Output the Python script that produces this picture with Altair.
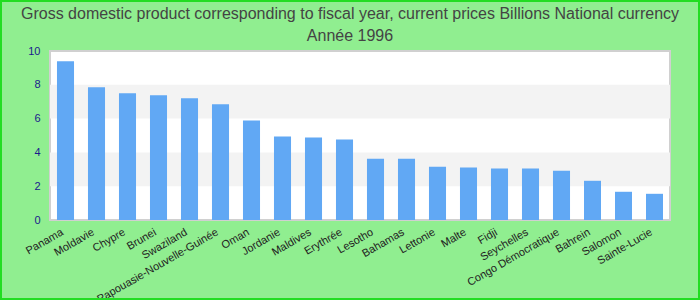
import altair as alt
import pandas as pd

countries = ["Panama", "Moldavie", "Chypre", "Brunei", "Swaziland",
             "Papouasie-Nouvelle-Guinée", "Oman", "Jordanie", "Maldives", "Erythrée",
             "Lesotho", "Bahamas", "Lettonie", "Malte", "Fidji",
             "Seychelles", "Congo Démocratique", "Bahrein", "Salomon", "Sainte-Lucie"]
values = [9.40, 7.86, 7.50, 7.38, 7.20,
          6.85, 5.89, 4.94, 4.88, 4.76,
          3.63, 3.63, 3.15, 3.10, 3.04,
          3.04, 2.92, 2.32, 1.67, 1.55]
band_start = [2, 6]
band_end = [4, 8]

df = pd.DataFrame({"country": countries, "value": values})
bands = pd.DataFrame({"y0": band_start, "y1": band_end})

yscale = alt.Scale(domain=[0, 10])
yaxis = alt.Axis(values=[0, 2, 4, 6, 8, 10], grid=False, ticks=False, domain=False,
                 labelColor="#1a1a8c", labelFontSize=11, labelFont="Liberation Sans",
                 labelPadding=10, labelOverlap=False, title=None)

band_layer = alt.Chart(bands).mark_rect(color="#f3f3f3").encode(
    y=alt.Y("y0:Q", scale=yscale, axis=yaxis, title=None),
    y2="y1:Q",
)

bars = alt.Chart(df).mark_bar(color="#61a8f4").encode(
    x=alt.X("country:N", sort=None, title=None,
            scale=alt.Scale(paddingInner=0.45, paddingOuter=0.225),
            axis=alt.Axis(labelAngle=-30, labelAlign="right", labelBaseline="top",
                          labelColor="#222222", labelFontSize=11, labelFont="Liberation Sans",
                          ticks=False, domain=False, labelPadding=6, labelOffset=-6,
                          labelOverlap=False)),
    y=alt.Y("value:Q", scale=yscale, axis=yaxis, title=None),
)

border = alt.Chart(df).mark_rect(fill=None, stroke="#22dd22", strokeWidth=2, clip=False).encode(
    x=alt.value(-49), x2=alt.value(649), y=alt.value(-50), y2=alt.value(79 + 169)
)

chart = alt.layer(band_layer, bars, border).properties(
    width=620,
    height=169,
    padding={"left": 50, "top": 51, "right": 30, "bottom": 80},
    autosize=alt.AutoSizeParams(type="none"),
    background="#90ee90",
    title=alt.TitleParams(
        text=["Gross domestic product corresponding to fiscal year, current prices Billions National currency",
              "Année 1996"],
        font="Liberation Sans", fontSize=16, fontWeight="normal", color="#444444",
        anchor="middle", dx=-10, dy=50, offset=6, lineHeight=22,
    ),
).configure_view(fill="white", stroke="#d0d0d0", strokeWidth=2)

chart.save("out.html", embed_options={"renderer": "svg", "actions": False})
